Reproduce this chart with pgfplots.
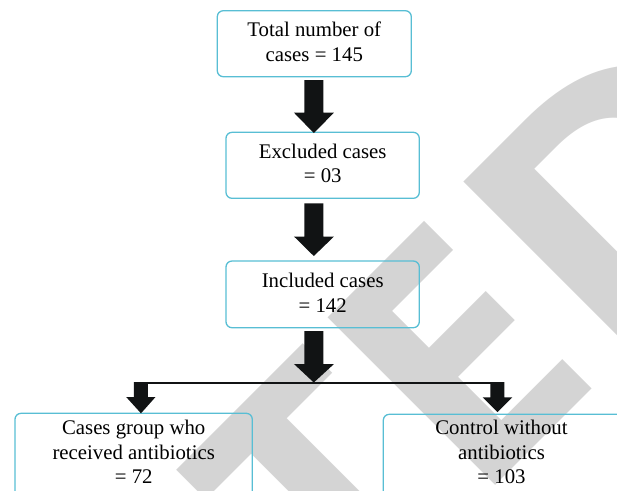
\documentclass[border=0pt]{standalone}
\usepackage{fontspec}
\setmainfont{Liberation Serif}
\newfontfamily\wmfont{Open Sans}
\usepackage{graphicx}
\usepackage{pgfplots}
\pgfplotsset{compat=1.18}
\definecolor{boxcol}{RGB}{88,190,212}
\definecolor{arrcol}{RGB}{17,19,20}
\definecolor{wmgray}{RGB}{212,212,212}
\begin{document}
\begin{tikzpicture}
\useasboundingbox (0,0) rectangle (617bp,491bp);
\clip (0,0) rectangle (617bp,491bp);
\begin{axis}[
  at={(0,0)}, anchor=south west,
  width=617bp, height=491bp, scale only axis,
  xmin=0, xmax=617, ymin=0, ymax=491,
  y dir=reverse, enlargelimits=false,
  hide axis, clip=false,
]
% watermark
\node[rotate=45, anchor=base east, inner sep=0pt, text=wmgray,
      font=\wmfont\bfseries\fontsize{332bp}{340bp}\selectfont]
      at (axis cs:811.8,169.7) {RETRACTE\scalebox{1.18}[1]{D}};

% boxes
\tikzset{bx/.style={draw=boxcol, line width=1.3bp, rounded corners=6bp}}
\draw[bx] (axis cs:217.3,10.7) rectangle (axis cs:411.3,76.7);
\draw[bx] (axis cs:226,132.3) rectangle (axis cs:419.3,198.3);
\draw[bx] (axis cs:226,261) rectangle (axis cs:419.3,327.7);
\draw[bx] (axis cs:15,413.3) rectangle (axis cs:252.3,510);
\draw[bx] (axis cs:383.3,414.3) rectangle (axis cs:630,510);

% arrows
\addplot[fill=arrcol, draw=none, no markers]
  coordinates {(304.3,80) (323.3,80) (323.3,112.7) (334,112.7) (313.8,133) (294,112.7) (304.3,112.7) (304.3,80)};
\addplot[fill=arrcol, draw=none, no markers]
  coordinates {(304.3,203.3) (323.3,203.3) (323.3,236.5) (334,236.5) (313.8,256) (294,236.5) (304.3,236.5) (304.3,203.3)};
\addplot[fill=arrcol, draw=none, no markers]
  coordinates {(304.3,331) (323.3,331) (323.3,364) (334,364) (313.8,382.5) (294,364) (304.3,364) (304.3,331)};
\addplot[fill=arrcol, draw=none, no markers]
  coordinates {(134,382) (148,382) (148,397) (155.5,397) (141,413.3) (126.2,397) (134,397) (134,382)};
\addplot[fill=arrcol, draw=none, no markers]
  coordinates {(490.5,382) (504.5,382) (504.5,397.3) (512.3,397.3) (497.5,412) (482.7,397.3) (490.5,397.3) (490.5,382)};
\addplot[draw=arrcol, line width=2.2bp, no markers]
  coordinates {(141,382.8) (497.5,382.8)};

% texts
\tikzset{lbl/.style={anchor=base, inner sep=0pt, font=\fontsize{20.8bp}{25bp}\selectfont, text=black}}
\node[lbl] at (axis cs:314.3,36) {Total number of};
\node[lbl] at (axis cs:314.3,61.7) {cases = 145};
\node[lbl] at (axis cs:322.7,158.3) {Excluded cases};
\node[lbl] at (axis cs:322.7,182.3) {= 03};
\node[lbl] at (axis cs:322.7,287.3) {Included cases};
\node[lbl] at (axis cs:322.7,312.3) {= 142};
\node[lbl] at (axis cs:133.7,434.3) {Cases group who};
\node[lbl] at (axis cs:133.7,459.3) {received antibiotics};
\node[lbl] at (axis cs:133.7,483.3) {= 72};
\node[lbl] at (axis cs:501.5,434.3) {Control without};
\node[lbl] at (axis cs:501.5,459.3) {antibiotics};
\node[lbl] at (axis cs:501.5,483.3) {= 103};
\end{axis}
\end{tikzpicture}
\end{document}
